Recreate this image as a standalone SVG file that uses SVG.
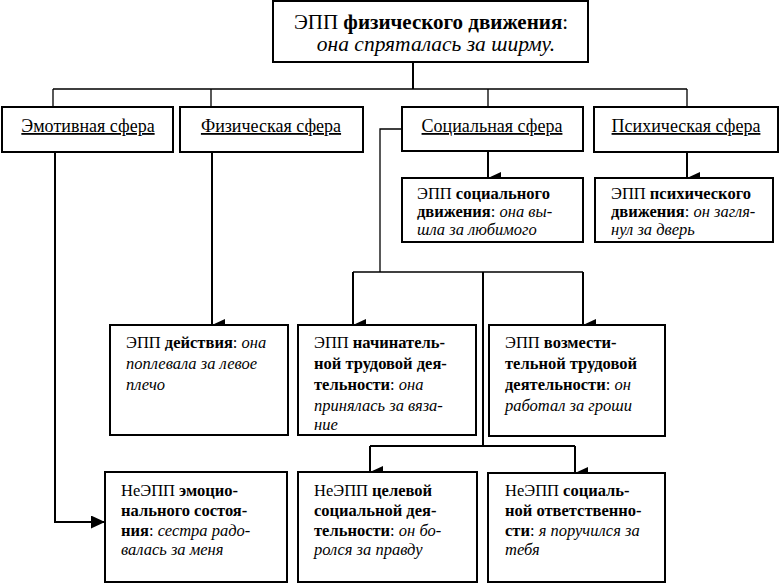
<svg xmlns="http://www.w3.org/2000/svg" width="782" height="583" viewBox="0 0 782 583">
<defs>
<style>
.box{fill:#fff;stroke:#000;stroke-width:2}
text{font-family:'Liberation Serif','Times New Roman','DejaVu Serif',serif;fill:#000}
.t{font-size:16.5px}
.sph{font-size:18px;text-decoration:underline;text-anchor:middle}
.top{font-size:21px;text-anchor:middle}
.b{font-weight:bold}
.i{font-style:italic}
.c{fill:none;stroke:#000;stroke-width:2}
.thin{fill:none;stroke:#000;stroke-width:1.3}
</style>
<marker id="arr" markerUnits="userSpaceOnUse" markerWidth="12" markerHeight="14" refX="6" refY="13" orient="auto" viewBox="0 0 12 14">
<path d="M0,0 L12,0 L6,13 Z" fill="#000"/>
</marker>
<marker id="arrR" markerUnits="userSpaceOnUse" markerWidth="15" markerHeight="13" refX="14" refY="6.5" viewBox="0 0 15 13">
<path d="M0,0 L14,6.5 L0,13 Z" fill="#000"/>
</marker>
</defs>
<rect width="782" height="583" fill="#fff"/>

<g id="connectors">
<path class="c" d="M413,62 V89"/>
<path class="thin" d="M53,89 H687 M53,89 V107 M211,89 V107 M488,89 V107 M687,89 V107"/>
<path class="c" d="M55,152 V522 H105" marker-end="url(#arrR)" stroke-width="2.5"/>
<path class="c" d="M212,152 V325" marker-end="url(#arr)"/>
<path class="c" d="M488,151 V178" marker-end="url(#arr)"/>
<path class="c" d="M687,152 V178" marker-end="url(#arr)"/>
<path class="thin" d="M402,129 H380 V272"/>
<path class="thin" d="M353,272 H583"/>
<path class="c" d="M353,272 V325" marker-end="url(#arr)"/>
<path class="c" d="M583,272 V325" marker-end="url(#arr)"/>
<path class="c" d="M483,272 V446"/>
<path class="c" d="M370,446 H575"/>
<path class="c" d="M370,446 V472" marker-end="url(#arr)"/>
<path class="c" d="M575,446 V473" marker-end="url(#arr)"/>
</g>

<g id="n-top">
<rect class="box" x="273" y="1" width="315" height="61"/>
<text class="top" x="431" y="29">ЭПП <tspan class="b">физического движения</tspan>:</text>
<text class="top i" x="436" y="51" style="font-size:21.5px">она спряталась за ширму.</text>
</g>

<g id="n-emo">
<rect class="box" x="2" y="107" width="171" height="45"/>
<text class="sph" x="88" y="132">Эмотивная сфера</text>
</g>
<g id="n-phys">
<rect class="box" x="180" y="107" width="183" height="45"/>
<text class="sph" x="271" y="132">Физическая сфера</text>
</g>
<g id="n-soc">
<rect class="box" x="402" y="107" width="181" height="44"/>
<text class="sph" x="492" y="132">Социальная сфера</text>
</g>
<g id="n-psy">
<rect class="box" x="594" y="107" width="184" height="45"/>
<text class="sph" x="686" y="132">Психическая сфера</text>
</g>

<g id="n-soc-move">
<rect class="box" x="402" y="178" width="181" height="64"/>
<text class="t" x="417" y="199">ЭПП <tspan class="b">социального</tspan></text>
<text class="t" x="417" y="217"><tspan class="b">движения</tspan>: <tspan class="i">она вы-</tspan></text>
<text class="t i" x="417" y="235">шла за любимого</text>
</g>
<g id="n-psy-move">
<rect class="box" x="595" y="178" width="178" height="64"/>
<text class="t" x="611" y="199">ЭПП <tspan class="b">психического</tspan></text>
<text class="t" x="611" y="217"><tspan class="b">движения</tspan>: <tspan class="i">он загля-</tspan></text>
<text class="t i" x="611" y="235">нул за дверь</text>
</g>

<g id="n-action">
<rect class="box" x="110" y="325" width="178" height="110"/>
<text class="t" x="126" y="348">ЭПП <tspan class="b">действия</tspan>: <tspan class="i">она</tspan></text>
<text class="t i" x="126" y="369">поплевала за левое</text>
<text class="t i" x="126" y="390">плечо</text>
</g>
<g id="n-start">
<rect class="box" x="298" y="325" width="178" height="110"/>
<text class="t" x="314" y="348">ЭПП <tspan class="b">начинатель-</tspan></text>
<text class="t b" x="314" y="369">ной трудовой дея-</text>
<text class="t" x="314" y="390"><tspan class="b">тельности</tspan>: <tspan class="i">она</tspan></text>
<text class="t i" x="314" y="411">принялась за вяза-</text>
<text class="t i" x="314" y="430">ние</text>
</g>
<g id="n-joint">
<rect class="box" x="489" y="325" width="176" height="111"/>
<text class="t" x="505" y="348">ЭПП <tspan class="b">возмести-</tspan></text>
<text class="t b" x="505" y="369">тельной трудовой</text>
<text class="t" x="505" y="390"><tspan class="b">деятельности</tspan>: <tspan class="i">он</tspan></text>
<text class="t i" x="505" y="411">работал за гроши</text>
</g>

<g id="n-emotion">
<rect class="box" x="105" y="472" width="182" height="110"/>
<text class="t" x="121" y="496">НеЭПП <tspan class="b">эмоцио-</tspan></text>
<text class="t b" x="121" y="516">нального состоя-</text>
<text class="t" x="121" y="536"><tspan class="b">ния</tspan>: <tspan class="i">сестра радо-</tspan></text>
<text class="t i" x="121" y="555">валась за меня</text>
</g>
<g id="n-goal">
<rect class="box" x="298" y="472" width="179" height="110"/>
<text class="t" x="314" y="496">НеЭПП <tspan class="b">целевой</tspan></text>
<text class="t b" x="314" y="516">социальной дея-</text>
<text class="t" x="314" y="536"><tspan class="b">тельности</tspan>: <tspan class="i">он бо-</tspan></text>
<text class="t i" x="314" y="555">ролся за правду</text>
</g>
<g id="n-resp">
<rect class="box" x="488" y="473" width="177" height="109"/>
<text class="t" x="505" y="496">НеЭПП <tspan class="b">социаль-</tspan></text>
<text class="t b" x="505" y="516">ной ответственно-</text>
<text class="t" x="505" y="536"><tspan class="b">сти</tspan>: <tspan class="i">я поручился за</tspan></text>
<text class="t i" x="505" y="555">тебя</text>
</g>
</svg>
